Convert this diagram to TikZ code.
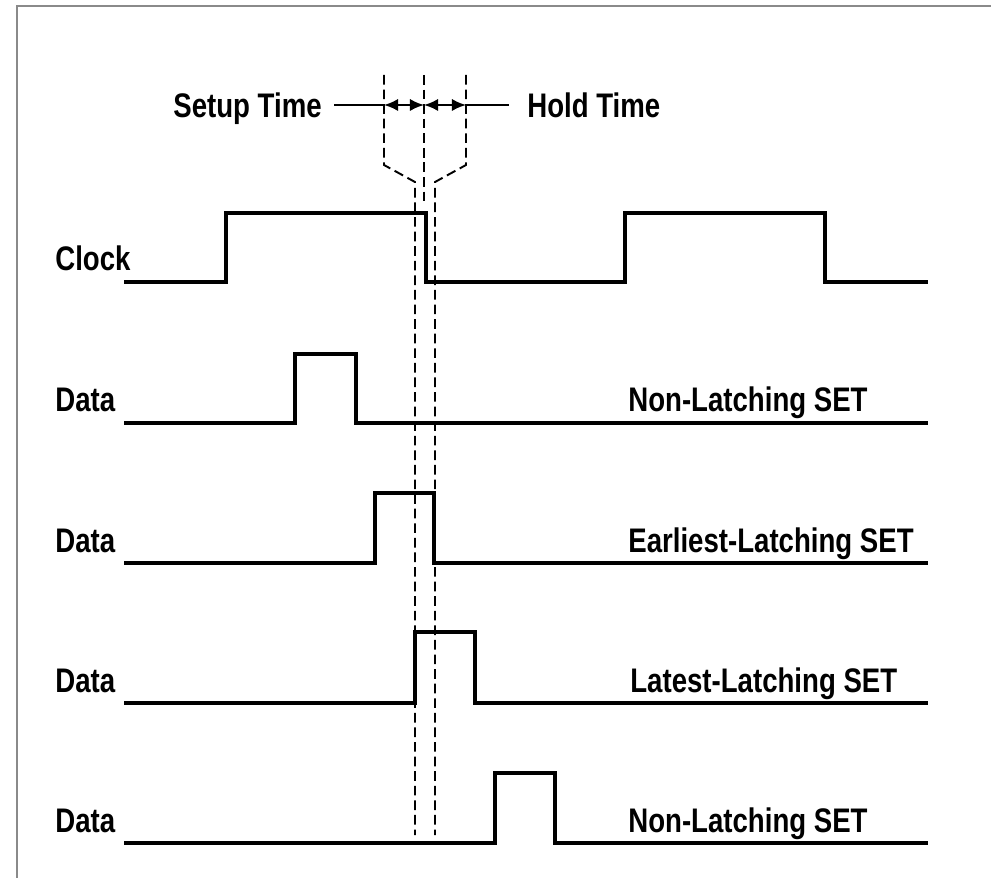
\documentclass[tikz,border=0pt]{standalone}
\usepackage{fontspec}
\setmainfont{Liberation Sans}[FakeStretch=0.81]
\usepackage{tikz}
\usetikzlibrary{arrows.meta}
\definecolor{framegray}{HTML}{8A8A8A}

\begin{document}
\begin{tikzpicture}[
    x=0.02cm, y=-0.02cm,
    signal/.style={line width=2.4pt, line join=miter},
    guide/.style={line width=1.1pt, dash pattern=on 5.5pt off 2.8pt},
    label/.style={anchor=base west, inner sep=0pt, font=\fontsize{19.4}{23}\selectfont\bfseries},
    span/.style={{Latex[length=8pt,width=7pt]}-{Latex[length=8pt,width=7pt]}, line width=1.2pt}
]
    \useasboundingbox (0,0) rectangle (991,878);
    % Frame
    \draw[framegray, line width=1pt] (17,878) -- (17,6) -- (991,6);

    % Setup / hold markers
    \node[label] (setup) at (173,118) {Setup Time};
    \node[label] (hold) at (527,118) {Hold Time};
    \coordinate (sL) at (384,105);
    \coordinate (sM) at (424,105);
    \coordinate (sR) at (466,105);
    \draw[line width=1.2pt] (setup.east |- sL) ++(12,0) -- (sL);
    \draw[line width=1.2pt] (sR) -- ([xshift=-10]hold.west |- sR);
    \draw[span] (sL) -- (sM);
    \draw[span] (sM) -- (sR);

    % Dashed guides
    \draw[guide] (384,75) -- (384,165) -- (415,182) -- (415,835);
    \draw[guide] (466,75) -- (466,165) -- (435,182) -- (435,835);
    \draw[guide] (424,75) -- (424,205);

    % Clock
    \node[label] (clk) at (55,271) {Clock};
    \draw[signal] (124,282) -- (226,282) -- (226,213) -- (426,213) -- (426,282)
        -- (625,282) -- (625,213) -- (825,213) -- (825,282) -- (928,282);

    % Data rows
    \node[label] (d1) at (55,412) {Data};
    \draw[signal] (124,423) -- (295,423) -- (295,354) -- (356,354) -- (356,423) -- (928,423);
    \node[label] (s1) at (628,412) {Non-Latching SET};

    \node[label] (d2) at (55,552) {Data};
    \draw[signal] (124,563) -- (375,563) -- (375,493) -- (434,493) -- (434,563) -- (928,563);
    \node[label] (s2) at (628,552) {Earliest-Latching SET};

    \node[label] (d3) at (55,692) {Data};
    \draw[signal] (124,703) -- (415,703) -- (415,632) -- (475,632) -- (475,703) -- (928,703);
    \node[label] (s3) at (630,692) {Latest-Latching SET};

    \node[label] (d4) at (55,832) {Data};
    \draw[signal] (124,843) -- (495,843) -- (495,773) -- (555,773) -- (555,843) -- (928,843);
    \node[label] (s4) at (628,832) {Non-Latching SET};
\end{tikzpicture}
\end{document}
